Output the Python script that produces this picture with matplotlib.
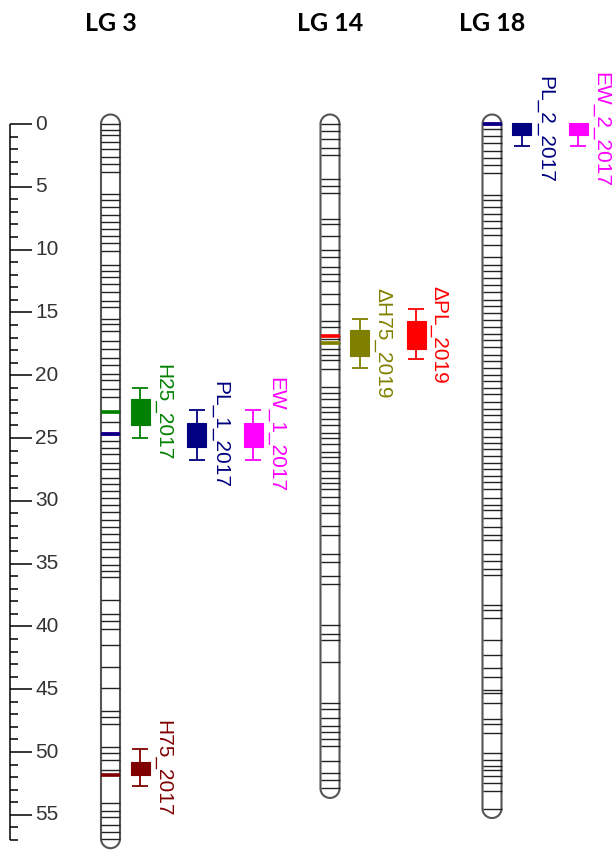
import numpy as np
import matplotlib.pyplot as plt
from matplotlib.patches import Rectangle

# Marker positions (cM) on each linkage group
lg3_markers = [0, 0.45, 0.9, 1.4, 2.0, 2.6, 3.2, 3.85, 5.6, 6.05, 6.6, 7.25, 7.8, 8.35,
               8.9, 9.5, 10.1, 11.2, 11.7, 12.2, 12.75, 13.4, 14.1, 14.6, 15.5, 15.95,
               16.5, 17.3, 17.9, 18.6, 19.2, 19.9, 20.4, 21.1, 21.7, 22.9, 23.7, 24.7,
               25.2, 25.8, 26.3, 27.0, 27.5, 28.2, 28.7, 29.2, 29.8, 30.35, 30.9, 31.5,
               32.1, 32.65, 33.3, 33.8, 34.5, 35.1, 35.6, 36.1, 37.9, 39.0, 39.6, 40.2,
               41.45, 43.2, 44.9, 46.7, 47.2, 47.8, 49.6, 50.1, 50.6, 51.4, 51.8, 54.1,
               54.7, 55.2, 55.8, 56.4, 56.9]
lg14_markers = [0, 0.58, 1.17, 1.9, 2.5, 4.4, 4.95, 5.5, 7.6, 8.0, 8.9, 10.0, 10.6, 11.4,
                11.95, 12.5, 13.55, 14.3, 15.7, 16.2, 16.85, 17.1, 17.45, 17.9, 18.4, 18.8,
                19.5, 20.9, 21.4, 21.9, 22.5, 22.9, 23.5, 24.0, 24.6, 25.0, 25.5, 26.1,
                26.5, 27.0, 27.6, 28.2, 28.6, 29.1, 29.7, 30.3, 31.0, 32.0, 32.7, 34.25,
                34.9, 36.0, 36.6, 39.9, 40.6, 41.1, 42.8, 46.1, 46.6, 47.3, 47.9, 48.4,
                49.0, 49.5, 50.7, 51.7, 52.25, 52.9]
lg18_markers = [0, 0.42, 0.95, 1.54, 2.12, 2.73, 3.26, 3.92, 5.64, 6.04, 6.57, 7.16, 7.69,
                8.29, 8.82, 9.62, 10.55, 11.2, 11.74, 12.27, 12.8, 13.4, 14.0, 14.5, 15.05,
                15.6, 16.2, 16.7, 17.2, 17.75, 18.4, 18.9, 19.4, 19.95, 20.5, 21.0, 21.5,
                22.1, 22.7, 23.2, 23.7, 24.3, 24.9, 25.4, 25.9, 26.45, 27.0, 27.5, 28.0,
                28.5, 29.1, 29.8, 30.3, 30.75, 31.4, 32.05, 32.7, 33.1, 34.2, 34.8, 35.4,
                35.9, 38.3, 38.7, 39.35, 41.1, 42.3, 43.3, 44.0, 45.05, 45.3, 46.1, 47.4,
                47.8, 48.5, 50.1, 50.6, 51.1, 51.4, 51.9, 52.5, 53.1, 54.5]

lg_names = ["LG 3", "LG 14", "LG 18"]
lg_markers = [lg3_markers, lg14_markers, lg18_markers]

# QTLs
qtl_names = ["H25_2017", "PL_1_2017", "EW_1_2017", "H75_2017",
             "\u0394H75_2019", "\u0394PL_2019", "PL_2_2017", "EW_2_2017"]
qtl_lg = [0, 0, 0, 0, 1, 1, 2, 2]
qtl_col = [0, 1, 2, 0, 0, 1, 0, 1]
qtl_peak = [22.9, 24.7, 24.7, 51.8, 17.45, 16.85, 0.0, 0.0]
qtl_box_lo = [21.9, 23.8, 23.8, 50.8, 16.4, 15.7, -0.1, -0.1]
qtl_box_hi = [24.0, 25.7, 25.7, 51.8, 18.5, 17.9, 0.9, 0.9]
qtl_ci_lo = [21.0, 22.8, 22.8, 49.8, 15.5, 14.75, 0.0, 0.0]
qtl_ci_hi = [25.0, 26.75, 26.75, 52.7, 19.4, 18.7, 1.75, 1.75]
qtl_colors = ["#008000", "#000080", "#FF00FF", "#800000",
              "#808000", "#FF0000", "#000080", "#FF00FF"]

# layout (pixels)
px_per_cm = 12.56
y_zero = 124
chrom_x = [110.5, 330, 492]
r = 9.5
rc = r / px_per_cm

fig = plt.figure(figsize=(6.12, 8.5), dpi=100)
ax = fig.add_axes([0, 0, 1, 1])
ax.set_xlim(0, 612)
ax.set_ylim((850 - y_zero) / px_per_cm, -y_zero / px_per_cm)
ax.axis('off')

# cM axis on the left
ax.vlines(10, 0, 57, color='black', lw=1.1)
for v in range(0, 58):
    if v % 5 == 0:
        ax.hlines(v, 10, 32, color='black', lw=1.1)
        ax.text(35, v, str(v), ha='left', va='center', fontsize=15,
                color='#333333', family='Liberation Sans')
    else:
        ax.hlines(v, 10, 18, color='black', lw=1.1)

# chromosomes
t = np.linspace(0, np.pi, 40)
for i, m in enumerate(lg_markers):
    cx = chrom_x[i]
    top, bot = min(m), max(m)
    xs = np.concatenate([cx + r * np.cos(t), cx - r * np.cos(t)])
    ys = np.concatenate([top - rc * np.sin(t), bot + rc * np.sin(t)])
    ax.fill(xs, ys, facecolor='white', edgecolor='#555555', lw=1.5, zorder=2)
    ax.hlines(m, cx - r, cx + r, color='#222222', lw=1.0, zorder=3)
    ax.text(cx, -8.0, lg_names[i], ha='center', va='center', fontsize=18,
            fontweight='bold', family='Lato', color='black')

# coloured peak lines on chromosomes (reverse so first listed ends on top)
for k in reversed(range(len(qtl_names))):
    cx = chrom_x[qtl_lg[k]]
    ax.hlines(qtl_peak[k], cx - r, cx + r, color=qtl_colors[k], lw=2.6, zorder=4)

# QTL boxes, whiskers and labels
for k in range(len(qtl_names)):
    x = chrom_x[qtl_lg[k]] + 29.5 + 56.5 * qtl_col[k]
    c = qtl_colors[k]
    ax.vlines(x, qtl_ci_lo[k], qtl_ci_hi[k], color=c, lw=1.3, zorder=3)
    ax.hlines([qtl_ci_lo[k], qtl_ci_hi[k]], x - 8, x + 8, color=c, lw=1.3, zorder=3)
    ax.add_patch(Rectangle((x - 9.5, qtl_box_lo[k]), 19, qtl_box_hi[k] - qtl_box_lo[k],
                           facecolor=c, edgecolor=c, lw=0.8, zorder=4))
    ax.text(x + 23, (qtl_box_lo[k] + qtl_box_hi[k]) / 2, qtl_names[k], rotation=-90,
            ha='center', va='center', fontsize=15, color=c, family='Liberation Sans')

fig.savefig('out.png', dpi=100)
